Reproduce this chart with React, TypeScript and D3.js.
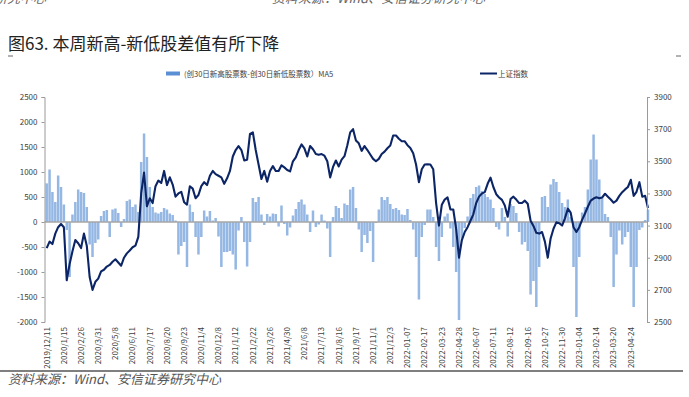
import { useEffect, useRef } from 'react'
import * as d3 from 'd3'

// x-axis tick labels, one every 6 samples
const tickLabels = [
  '2019/12/11', '2020/1/15', '2020/2/26', '2020/3/31', '2020/5/8', '2020/6/11', '2020/7/17',
  '2020/8/20', '2020/9/23', '2020/11/4', '2020/12/8', '2021/1/12', '2021/2/22', '2021/3/26',
  '2021/4/30', '2021/6/8', '2021/7/13', '2021/8/16', '2021/9/17', '2021/11/1', '2021/12/3',
  '2022-01-07', '2022-02-17', '2022-03-23', '2022-04-28', '2022-06-07', '2022-07-11',
  '2022-08-12', '2022-09-16', '2022-10-27', '2022-11-30', '2023-01-04', '2023-02-14',
  '2023-03-20', '2023-04-24',
]
const samplesPerTick = 6

// (创30日新高股票数-创30日新低股票数) MA5
const barValues = [
  773, 1050, 600, 400, 930, 700, 350, -160, -1100, 150, 400, 650, 600, 580, 300, -450, -700, -420,
  -350, 120, 220, 240, -300, 250, 270, 180, -100, 60, 420, 450, 300, 350, 200, 1200, 1770, 1300,
  700, 300, 190, 170, 200, 280, 250, 170, 140, 30, -650, -480, -400, -900, 350, 200, -300, -650,
  -300, 230, 110, 220, 30, 80, -290, -900, -600, -600, -580, -650, -950, -170, 100, -400, -890, -400,
  480, 400, 500, 150, -60, 160, 110, 170, 160, -90, 330, -40, -270, -110, 130, 260, 400, 450,
  350, 150, -200, 230, -100, -50, 150, 30, -130, -700, 100, 320, 280, 80, 370, 340, 650, 700,
  280, -150, -600, -260, -420, -180, -800, -20, 250, 500, 440, 500, 360, 260, 280, 240, 150, 140,
  260, 40, -150, -700, -1550, -300, -60, 250, 250, 100, -500, -780, -300, 110, 170, -130, -500, -1000,
  -1960, -330, -120, 110, 480, 560, 700, 730, 620, 560, 500, 450, 280, -100, -150, 280, 100, -290,
  360, 320, 180, -200, -450, -400, -580, -1450, -1180, -1700, -900, 500, 520, 300, 750, 860, 800, 600,
  380, 300, 450, 100, -900, -1900, -700, 190, 300, 650, 1250, 1750, 1250, 850, 500, 160, 100, -300,
  -1300, -650, -170, -450, -300, -200, -900, -1700, -900, -160, -110, 40, 250,
]

// 上证指数
const indexValues = [
  2960, 3000, 2985, 3050, 3090, 3110, 3090, 2760, 2860, 2940, 3010, 2990, 2960, 3050, 2975, 2780,
  2700, 2750, 2770, 2815, 2825, 2845, 2855, 2875, 2890, 2870, 2850, 2900, 2927, 2945, 2965, 2975,
  3030, 3300, 3430, 3220, 3270, 3240, 3345, 3380, 3365, 3440, 3352, 3400, 3355, 3280, 3300, 3310,
  3245, 3230, 3345, 3330, 3270, 3290, 3345, 3370, 3352, 3410, 3440, 3420, 3410, 3400, 3360, 3394,
  3440, 3530, 3570, 3595, 3570, 3505, 3510, 3670, 3680, 3570, 3480, 3390, 3440, 3373, 3440, 3470,
  3440, 3440, 3475, 3462, 3446, 3437, 3500, 3525, 3570, 3605, 3580, 3530, 3595, 3575, 3545, 3540,
  3545, 3535, 3500, 3400, 3465, 3505, 3468, 3510, 3532, 3600, 3680, 3700, 3630, 3612, 3565, 3595,
  3570, 3542, 3515, 3500, 3515, 3545, 3560, 3581, 3598, 3660, 3660, 3640, 3625, 3625, 3600, 3583,
  3550, 3480, 3370, 3450, 3480, 3482, 3480, 3450, 3240, 3100, 3230, 3262, 3275, 3200, 3200, 3080,
  2900, 3010, 3060, 3090, 3130, 3170, 3240, 3280, 3300, 3308, 3360, 3398, 3340, 3295, 3275, 3260,
  3225, 3155, 3265, 3280, 3262, 3240, 3240, 3255, 3236, 3130, 3098, 3055, 3050, 3060, 3000, 2900,
  3020, 3080, 3120, 3115, 3100, 3145, 3205, 3180, 3090, 3060, 3090, 3135, 3175, 3217, 3255, 3268,
  3276, 3270, 3275, 3298, 3280, 3262, 3242, 3255, 3285, 3308, 3325, 3340, 3385, 3285, 3310, 3370,
  3280, 3285, 3210,
]

const leftTicks = [-2000, -1500, -1000, -500, 0, 500, 1000, 1500, 2000, 2500]
const rightTicks = [2500, 2700, 2900, 3100, 3300, 3500, 3700, 3900]

const barLabel = '(创30日新高股票数-创30日新低股票数）MA5'
const lineLabel = '上证指数'
const title = '图63. 本周新高-新低股差值有所下降'
const source = '资料来源：Wind、安信证券研究中心'

const FONT = '"Noto Sans CJK SC", "Noto Sans", sans-serif'

export default function App() {
  const svgRef = useRef<SVGSVGElement>(null)

  useEffect(() => {
    if (!svgRef.current) return
    const width = 689
    const height = 397
    const svg = d3.select(svgRef.current)
    svg.attr('width', width).attr('height', height)
    svg.selectAll('*').remove()

    svg.append('rect').attr('width', width).attr('height', height).attr('fill', '#fff')

    const top = 97
    const bottom = 322
    const left = 44.5
    const right = 647

    const x = d3.scaleLinear()
      .domain([0, (tickLabels.length - 1) * samplesPerTick])
      .range([46.7, 630.8])
    const yL = d3.scaleLinear().domain([-2000, 2500]).range([bottom, top])
    const yR = d3.scaleLinear().domain([2500, 3900]).range([bottom, top])

    // cut-off header from the previous page
    svg.append('text').attr('x', -6).attr('y', 3).attr('font-family', FONT)
      .attr('font-size', 13).attr('font-style', 'italic').attr('fill', '#666')
      .text('研究中心')
    svg.append('text').attr('x', 272).attr('y', 3).attr('font-family', FONT)
      .attr('font-size', 13).attr('font-style', 'italic').attr('fill', '#666')
      .text(source)

    svg.append('text')
      .attr('x', 8).attr('y', 50)
      .attr('font-family', FONT).attr('font-size', 17)
      .attr('fill', '#222')
      .text(title)

    svg.append('line').attr('x1', 8).attr('x2', 13).attr('y1', 56).attr('y2', 56)
      .attr('stroke', '#666')
    svg.append('line').attr('x1', 676).attr('x2', 681).attr('y1', 56).attr('y2', 56)
      .attr('stroke', '#666')

    // bars
    const bw = 2.5
    svg.append('g')
      .selectAll('rect')
      .data(barValues)
      .enter()
      .append('rect')
      .attr('x', (_, i) => x(i) - bw / 2)
      .attr('y', d => yL(Math.max(0, d)))
      .attr('width', bw)
      .attr('height', d => Math.abs(yL(d) - yL(0)))
      .attr('fill', '#95b7e3')

    // zero line
    svg.append('line')
      .attr('x1', left).attr('x2', right)
      .attr('y1', yL(0)).attr('y2', yL(0))
      .attr('stroke', '#a6a6a6').attr('stroke-width', 1.3)

    const line = d3.line<number>()
      .x((_, i) => x(i))
      .y(d => yR(d))
    svg.append('path')
      .datum(indexValues)
      .attr('fill', 'none')
      .attr('stroke', '#0c2566')
      .attr('stroke-width', 2.1)
      .attr('stroke-linejoin', 'round')
      .attr('d', line)

    // axes
    const gL = svg.append('g')
      .attr('transform', `translate(${left},0)`)
      .call(d3.axisLeft(yL).tickValues(leftTicks).tickSize(3).tickPadding(4)
        .tickFormat(d => String(d)))
    const gR = svg.append('g')
      .attr('transform', `translate(${right},0)`)
      .call(d3.axisRight(yR).tickValues(rightTicks).tickSize(3).tickPadding(4)
        .tickFormat(d => String(d)))
    for (const g of [gL, gR]) {
      g.select('.domain').attr('stroke', '#9a9a9a')
      g.selectAll('.tick line').attr('stroke', '#9a9a9a')
      g.selectAll('.tick text')
        .attr('font-family', FONT).attr('font-size', 8).attr('fill', '#404040')
    }

    // x labels
    svg.append('g')
      .selectAll('text')
      .data(tickLabels)
      .enter()
      .append('text')
      .attr('transform', (_, k) => `translate(${x(k * samplesPerTick)},327) rotate(-90)`)
      .attr('text-anchor', 'end')
      .attr('dy', '0.35em')
      .attr('font-family', FONT)
      .attr('font-size', 8)
      .attr('fill', '#404040')
      .text(d => d)

    // legend
    const legend = svg.append('g')
    legend.append('rect').attr('x', 166).attr('y', 71.5).attr('width', 14).attr('height', 4)
      .attr('fill', '#5b8fd3')
    legend.append('text').attr('x', 184).attr('y', 76.5)
      .attr('font-family', FONT).attr('font-size', 7.5).attr('fill', '#404040')
      .text(barLabel)
    legend.append('line').attr('x1', 480).attr('x2', 497).attr('y1', 73.5).attr('y2', 73.5)
      .attr('stroke', '#0c2566').attr('stroke-width', 2)
    legend.append('text').attr('x', 498).attr('y', 76.5)
      .attr('font-family', FONT).attr('font-size', 7.5).attr('fill', '#404040')
      .text(lineLabel)

    // footer
    svg.append('line').attr('x1', 0).attr('x2', 683).attr('y1', 371).attr('y2', 371)
      .attr('stroke', '#555').attr('stroke-width', 1.5)
    svg.append('text').attr('x', 8).attr('y', 384)
      .attr('font-family', FONT).attr('font-size', 13).attr('font-style', 'italic')
      .attr('fill', '#555')
      .text(source)
  }, [])

  return <svg ref={svgRef} style={{ position: 'absolute', left: 0, top: 0 }} />
}
